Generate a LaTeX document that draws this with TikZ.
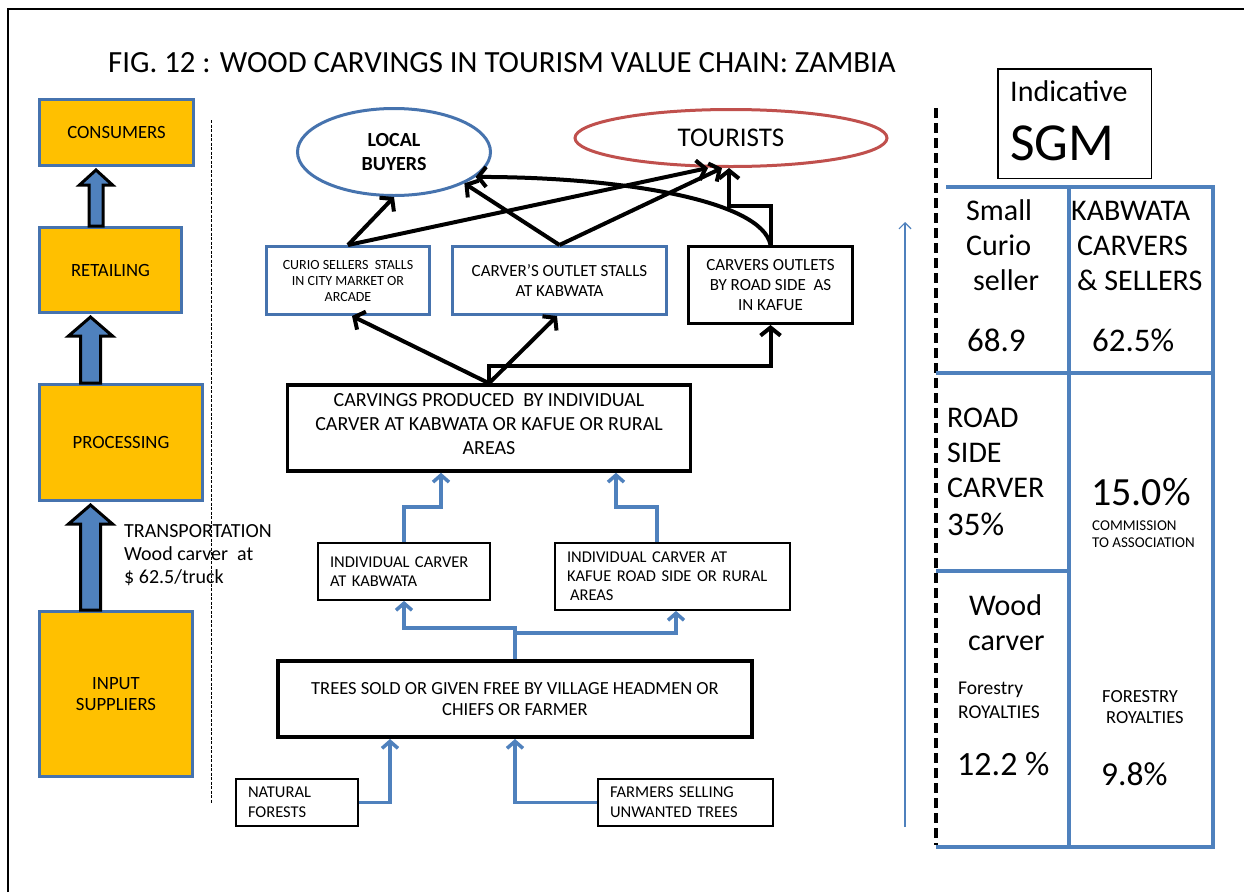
\documentclass[tikz,border=0pt]{standalone}
\usepackage{fontspec}
\setmainfont{Carlito}
\usetikzlibrary{arrows.meta,calc,shapes.geometric}

\definecolor{gold}{HTML}{FFC000}
\definecolor{steel}{HTML}{4F81BD}
\definecolor{edge}{HTML}{4673AE}
\definecolor{rose}{HTML}{C0504D}

\newcommand\fsz[2]{\fontsize{#1}{#2}\selectfont}

\tikzset{
  stage/.style={draw=edge, line width=3pt, fill=gold, inner sep=0pt, align=center, font=\fsz{18.7}{21}},
  stall/.style={draw=edge, line width=3pt, fill=white, inner sep=0pt, align=center},
  plainbox/.style={draw=black, line width=3pt, fill=white, inner sep=0pt, align=center},
  slimbox/.style={draw=black, line width=1.8pt, fill=white, inner ysep=0pt, inner xsep=12pt, align=left},
  shaft/.style={draw=black, line width=3pt, fill=steel, line join=miter},
  flow/.style={line width=4pt, -{Straight Barb[length=8pt,width=20pt]}},
  feed/.style={draw=steel, line width=3.5pt, -{Straight Barb[length=7pt,width=16pt]}},
  cell/.style={anchor=base west, inner sep=0pt},
  grid/.style={draw=steel, line width=3.5pt},
}

% hollow block arrow pointing up: from node, to node, centre x, shaft half width, head half width, head length
\newcommand\upshaft[6]{%
  \draw[shaft] let \p1=(#1), \p2=($(#2)+(0,3)$) in
    ({#3pt-#4pt},\y1) -- ({#3pt-#4pt},{\y2-#6pt}) -- ({#3pt-#5pt},{\y2-#6pt})
    -- (#3pt,\y2) -- ({#3pt+#5pt},{\y2-#6pt}) -- ({#3pt+#4pt},{\y2-#6pt})
    -- ({#3pt+#4pt},\y1) -- cycle;}

\begin{document}
\begin{tikzpicture}[x=1pt,y=-1pt]
\useasboundingbox (0,0) rectangle (1244,892);
\fill[white] (0,0) rectangle (1244,892);
\draw[line width=2pt] (8,892) -- (8,9) -- (1244,9);

\node[anchor=base west, inner sep=0pt, font=\fsz{30.8}{36}] (title) at (108,72)
  {FIG. 12 : WOOD CARVINGS IN TOURISM VALUE CHAIN: ZAMBIA};

% value chain stages
\node[stage, minimum width=154pt, minimum height=66pt] (con) at (116.5,132.5) {CONSUMERS};
\node[stage, minimum width=142pt, minimum height=85pt] (ret) at (110.5,270) {RETAILING};
\node[stage, minimum width=163pt, minimum height=116pt] (pro) at (121,442.5) {PROCESSING};
\node[stage, minimum width=153pt, minimum height=165pt] (inp) at (116,694) {INPUT\\SUPPLIERS};

\upshaft{ret.north}{con.south}{96}{7}{16.5}{15}
\upshaft{pro.north}{ret.south}{90.5}{10}{22}{19}
\upshaft{inp.north}{pro.south}{90.5}{10}{22}{19}

\node[anchor=north west, align=left, inner sep=0pt, font=\fsz{20}{23}] (trans) at (124,524)
  {TRANSPORTATION\\Wood carver\ \ at\\\$ 62.5/truck};

\draw[line width=1pt, dash pattern=on 3pt off 1.5pt] (211,120) -- (211,803);

% buyers
\node[ellipse, draw=edge, line width=3pt, minimum width=193pt, minimum height=87pt, inner sep=0pt,
      align=center, font=\bfseries\fsz{20}{24}] (lb) at (394,152) {LOCAL\\BUYERS};
\node[ellipse, draw=rose, line width=3pt, minimum width=312pt, minimum height=57pt, inner sep=0pt,
      font=\fsz{27}{30}] (tour) at (731,138) {TOURISTS};

% outlets
\node[stall, minimum width=163pt, minimum height=68pt, font=\fsz{14}{16}] (curio) at (348,280.5)
  {CURIO SELLERS\ \ STALLS\\IN CITY MARKET OR\\ARCADE};
\node[stall, minimum width=214pt, minimum height=68pt, font=\fsz{17}{20}] (outlet) at (559.5,280.5)
  {CARVER’S OUTLET STALLS\\AT KABWATA};
\node[plainbox, minimum width=164pt, minimum height=77pt, font=\fsz{17}{20}] (road) at (770.5,285)
  {CARVERS OUTLETS\\BY ROAD SIDE\ \ AS\\IN KAFUE};

\node[plainbox, line width=3.5pt, minimum width=403pt, minimum height=86pt, text depth=8pt, font=\fsz{20}{24}] (carv) at (489,428)
  {CARVINGS PRODUCED\ \ BY INDIVIDUAL\\CARVER AT KABWATA OR KAFUE OR RURAL\\AREAS};

\node[slimbox, text width=148pt, minimum height=57pt, font=\fsz{16.5}{19}] (ik) at (404,571.5)
  {INDIVIDUAL CARVER\\AT KABWATA};
\node[slimbox, text width=211pt, minimum height=67pt, font=\fsz{16.5}{19}] (ikf) at (672.5,576.5)
  {INDIVIDUAL CARVER AT\\KAFUE ROAD SIDE OR RURAL\\\hspace*{3pt}AREAS};

\node[plainbox, line width=4pt, minimum width=474pt, minimum height=76pt, font=\fsz{18.5}{21}] (trees) at (515,699)
  {TREES SOLD OR GIVEN FREE BY VILLAGE HEADMEN OR\\CHIEFS OR FARMER};

\node[slimbox, text width=98pt, minimum height=47pt, font=\fsz{16.5}{20}] (nf) at (297,802.5)
  {NATURAL\\FORESTS};
\node[slimbox, text width=151pt, minimum height=47pt, font=\fsz{16.5}{20}] (fs) at (685.5,802.5)
  {FARMERS SELLING\\UNWANTED TREES};

% sales flows
\draw[flow] (curio.north) -- (lb.south);
\draw[flow] (curio.north) -- ([xshift=-23pt]tour.south);
\draw[flow] (outlet.north) -- (lb.-24);
\draw[flow] (outlet.north) -- ([xshift=-9pt]tour.south);
\draw[flow] (road.north) .. controls (762,200) and (620,177) .. (lb.-17);
\draw[flow] (road.north) -- ++(0,-39) -| ([xshift=-2pt]tour.south);

\draw[flow] (carv.north) -- ([xshift=4pt]curio.south);
\draw[flow] (carv.north) -- ([xshift=-2.5pt]outlet.south);
\draw[flow] (carv.north) -- ++(0,-17) -| (road.south);

% supply flows
\draw[feed] (ik.north) -- ++(0,-35) -| ([xshift=-48pt]carv.south);
\draw[feed] ([xshift=-15.5pt]ikf.north) -- ++(0,-35) -| ([xshift=127pt]carv.south);
\draw[feed] (trees.north) -- ++(0,-31) -| (ik.south);
\draw[feed] (trees.north) -- ++(0,-26) -| ([xshift=3.5pt]ikf.south);
\draw[feed] (nf.east) -| ([xshift=-125pt]trees.south);
\draw[feed] (fs.west) -| (trees.south);

% margin table
\node[draw=black, line width=1.5pt, minimum width=153.5pt, minimum height=109.5pt, inner sep=0pt] (sgm) at (1074.5,123.5) {};
\node[cell, font=\fsz{30}{36}] (ind) at (1010,101.7) {Indicative};
\node[cell, font=\fsz{53.5}{60}] (sgmtxt) at (1010,160) {SGM};

\coordinate (low) at (905,827);
\coordinate (high) at (905,222);
\draw[steel, line width=1.2pt, -{Straight Barb[length=6pt,width=12pt]}] (low) -- (high);

\draw[line width=4pt, dash pattern=on 10pt off 5pt] (936,108) -- (936,845);

\draw[grid] (946,187) -- (1215,187);
\draw[grid] (1213,187) -- (1213,847);
\draw[grid] (1069,187) -- (1069,847);
\draw[grid] (936,373) -- (1213,373);
\draw[grid] (936,571) -- (1069,571);
\draw[grid] (936,847) -- (1215,847);

\begin{scope}[every node/.style={cell, font=\fsz{30}{36}}]
\node (c1a) at (966,220) {Small};
\node (c1b) at (966,255) {Curio};
\node (c1c) at (973,290) {seller};
\node (c2a) at (1071,220) {KABWATA};
\node (c2b) at (1077,255) {CARVERS};
\node (c2c) at (1077,290) {\& SELLERS};
\node (c3a) at (947,427) {ROAD};
\node (c3b) at (947,462) {SIDE};
\node (c3c) at (947,497) {CARVER};
\node (c5a) at (969,615) {Wood};
\node (c5b) at (968,650) {carver};
\end{scope}
\begin{scope}[every node/.style={cell, font=\fsz{33}{38}}]
\node (c1d) at (967,351) {68.9};
\node (c2d) at (1092,351) {62.5\%};
\node (c3d) at (947,535) {35\%};
\end{scope}
\node[cell, font=\fsz{40}{46}] (c4a) at (1091,505) {15.0\%};
\node[cell, font=\fsz{15}{17}] (c4b) at (1092,530) {COMMISSION};
\node[cell, font=\fsz{15}{17}] (c4c) at (1092,547) {TO ASSOCIATION};
\node[cell, font=\fsz{19.5}{23}] (c5c) at (958,694) {Forestry};
\node[cell, font=\fsz{19.5}{23}] (c5d) at (958,718) {ROYALTIES};
\node[cell, font=\fsz{34}{40}] (c5e) at (957,775) {12.2 \%};
\node[cell, font=\fsz{18.5}{22}] (c6a) at (1102,702) {FORESTRY};
\node[cell, font=\fsz{18.5}{22}] (c6b) at (1106,723) {ROYALTIES};
\node[cell, font=\fsz{33.5}{38}] (c6c) at (1101,785) {9.8\%};
\end{tikzpicture}
\end{document}
